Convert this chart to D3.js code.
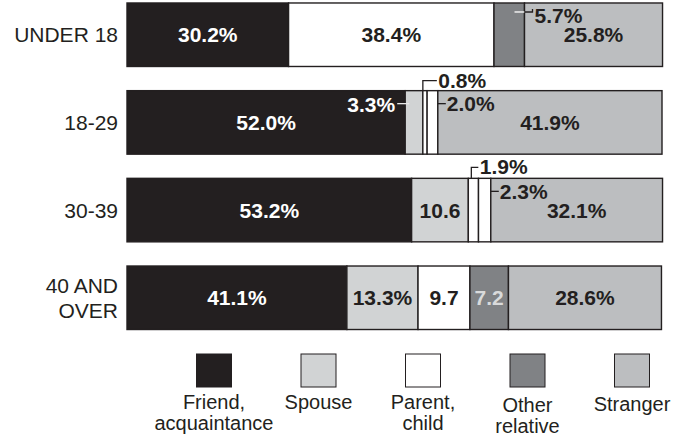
<!DOCTYPE html>
<html><head><meta charset="utf-8">
<script src="https://cdn.jsdelivr.net/npm/d3@7"></script>
<style>body{margin:0;background:#fff} svg{display:block}</style>
</head><body>
<script>
// ---- data ----
const categories = ["UNDER 18", "18-29", "30-39", "40 AND OVER"];
const categoryLines = [["UNDER 18"], ["18-29"], ["30-39"], ["40 AND", "OVER"]];
const seriesKeys = ["friend", "spouse", "parent", "other", "stranger"];
const seriesLegend = [["Friend,", "acquaintance"], ["Spouse"], ["Parent,", "child"], ["Other", "relative"], ["Stranger"]];
const friend   = [30.2, 52.0, 53.2, 41.1];
const spouse   = [0,    3.3,  10.6, 13.3];
const parent   = [38.4, 0.8,  1.9,  9.7];
const other    = [5.7,  2.0,  2.3,  7.2];
const stranger = [25.8, 41.9, 32.1, 28.6];
const valueLabels = [
  ["30.2%", "",      "38.4%", "5.7%", "25.8%"],
  ["52.0%", "3.3%",  "0.8%",  "2.0%", "41.9%"],
  ["53.2%", "10.6",  "1.9%",  "2.3%", "32.1%"],
  ["41.1%", "13.3%", "9.7",   "7.2",  "28.6%"]
];

// ---- styles ----
const W = 689, H = 438;
const colors = {friend: "#231f20", spouse: "#d1d3d4", parent: "#ffffff", other: "#808285", stranger: "#bcbec0"};
const textColors = {friend: "#ffffff", spouse: "#231f20", parent: "#231f20", other: "#d9dadb", stranger: "#231f20"};
const ink = "#231f20";
const font = "'Liberation Sans', Arial, Helvetica, sans-serif";

const table = categories.map((c, i) => ({
  cat: c, friend: friend[i], spouse: spouse[i], parent: parent[i], other: other[i], stranger: stranger[i]
}));

const svg = d3.select("body").append("svg").attr("width", W).attr("height", H)
  .style("font-family", font);

const x = d3.scaleLinear().domain([0, 100]).range([127, 662]);
const y = d3.scaleBand().domain(categories).range([-9.1, 341.6]).paddingInner(0.2757).paddingOuter(0.1378);

const stack = d3.stack().keys(seriesKeys)(table);

// bars
const g = svg.append("g");
stack.forEach((layer, si) => {
  const key = seriesKeys[si];
  g.selectAll(null).data(layer.filter(d => d[1] - d[0] > 0)).enter().append("rect")
    .attr("x", d => x(d[0]))
    .attr("y", d => y(d.data.cat))
    .attr("width", d => x(d[1]) - x(d[0]))
    .attr("height", y.bandwidth())
    // slivers under 3% are left unfilled, as in the printed original
    .attr("fill", d => (d[1] - d[0] < 3 ? "#ffffff" : colors[key]))
    .attr("stroke", ink).attr("stroke-width", 1.4);
});

// outside-label placements (style, not data)
const outside = {
  "UNDER 18|3": "rightTop",
  "18-29|1": "left",
  "18-29|2": "above",
  "18-29|3": "right",
  "30-39|2": "aboveInset",
  "30-39|3": "right"
};

const labG = svg.append("g").style("font-weight", "bold").style("font-size", "21px");
stack.forEach((layer, si) => {
  const key = seriesKeys[si];
  layer.forEach((d, ri) => {
    const txt = valueLabels[ri][si];
    if (!txt) return;
    const x0 = x(d[0]), x1 = x(d[1]);
    const top = y(d.data.cat), cy = top + y.bandwidth() / 2;
    const place = outside[d.data.cat + "|" + si];
    if (!place) {
      labG.append("text").attr("x", (x0 + x1) / 2).attr("y", cy + 7.5)
        .attr("text-anchor", "middle").attr("fill", textColors[key]).text(txt);
      return;
    }
    if (place === "rightTop") {
      svg.append("line").attr("x1", x1 - 10).attr("x2", x1).attr("y1", top + 9).attr("y2", top + 9)
        .attr("stroke", "#ffffff").attr("stroke-width", 1.3);
      svg.append("path").attr("d", `M${x1},${top + 9}H${x1 + 8}V${top + 6}`)
        .attr("fill", "none").attr("stroke", ink).attr("stroke-width", 1.3);
      labG.append("text").attr("x", x1 + 10).attr("y", top + 20).attr("fill", ink).text(txt);
    } else if (place === "left") {
      svg.append("line").attr("x1", x0 - 8).attr("x2", x0 + 4).attr("y1", top + 13).attr("y2", top + 13)
        .attr("stroke", "#e8e8e8").attr("stroke-width", 1.3);
      labG.append("text").attr("x", x0 - 10).attr("y", top + 21).attr("text-anchor", "end")
        .attr("fill", "#ffffff").text(txt);
    } else if (place === "above" || place === "aboveInset") {
      const inset = place === "above" ? 0 : 3;
      const rise = place === "above" ? 10 : 11;
      const reach = place === "above" ? 14 : 10;
      svg.append("path").attr("d", `M${x0 + inset},${top}V${top - rise}H${x0 + reach}`)
        .attr("fill", "none").attr("stroke", ink).attr("stroke-width", 1.3);
      labG.append("text").attr("x", x0 + reach + 1.5).attr("y", top - rise + 7).attr("fill", ink).text(txt);
    } else if (place === "right") {
      svg.append("line").attr("x1", x1).attr("x2", x1 + 8).attr("y1", top + 13).attr("y2", top + 13)
        .attr("stroke", ink).attr("stroke-width", 1.3);
      labG.append("text").attr("x", x1 + 9).attr("y", top + 20.5).attr("fill", ink).text(txt);
    }
  });
});

// category labels
const catG = svg.append("g").style("font-size", "21px").attr("fill", ink);
categories.forEach((c, i) => {
  const lines = categoryLines[i];
  const cy = y(c) + y.bandwidth() / 2;
  const lh = 25;
  const first = cy + 7.5 - (lines.length - 1) * lh / 2;
  const t = catG.append("text").attr("text-anchor", "end").attr("x", 118);
  lines.forEach((ln, j) => t.append("tspan").attr("x", 118).attr("y", first + j * lh).text(ln));
});

// legend
const lx = d3.scalePoint().domain(seriesKeys).range([214, 632]);
const legendDrop = {friend: 0, spouse: 0, parent: 0, other: 3, stranger: 2};
const legG = svg.append("g").style("font-size", "20px").attr("fill", ink);
seriesKeys.forEach((k, i) => {
  const cx = lx(k);
  legG.append("rect").attr("x", cx - 17.5).attr("y", 354).attr("width", 35).attr("height", 33)
    .attr("fill", colors[k]).attr("stroke", ink).attr("stroke-width", 1);
  const t = legG.append("text").attr("text-anchor", "middle");
  seriesLegend[i].forEach((ln, j) =>
    t.append("tspan").attr("x", cx).attr("y", 409 + legendDrop[k] + j * 21).text(ln));
});
</script>
</body></html>
